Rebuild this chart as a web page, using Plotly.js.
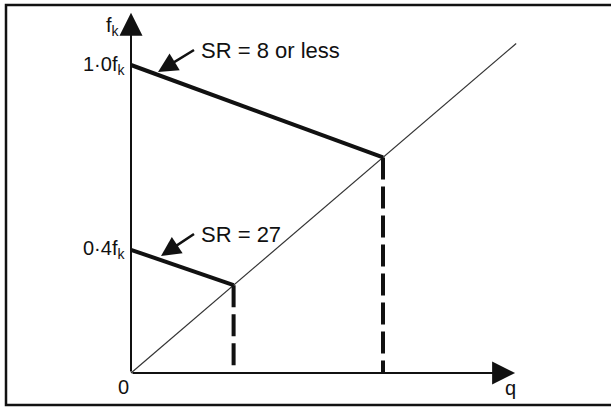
<!DOCTYPE html>
<html>
<head>
<meta charset="utf-8">
<script src="https://cdn.plot.ly/plotly-3.0.1.min.js"></script>
<style>html,body{margin:0;padding:0;background:#fff;}#chart{width:611px;height:408px;}</style>
</head>
<body>
<div id="chart"></div>
<script>
// ---- data (q and f expressed so that the diagonal is f = q; f in units of fk) ----
const srLabels = ['SR = 8 or less', 'SR = 27'];
const startF = [1.0, 0.4];          // f at q = 0
const cornerQ = [0.70, 0.285];      // where each line meets the diagonal
const tickLabels = ['1·0f<sub>k</sub>', '0·4f<sub>k</sub>'];
const diagonalQ = [0, 1.07];
const diagonalF = [0, 1.07];
const axisEndQ = 1.067;
const axisEndF = 1.17;

const W = 611, H = 408;
const FONT = 'Liberation Sans, Arial, Helvetica, sans-serif';
const px = x => x / W;
const py = y => 1 - y / H;

const traces = [];
// diagonal
traces.push({x: diagonalQ, y: diagonalF, mode: 'lines', line: {color: '#333', width: 1.2}, hoverinfo: 'skip'});
for (let i = 0; i < srLabels.length; i++) {
  // solid capacity line
  traces.push({x: [0, cornerQ[i]], y: [startF[i], cornerQ[i]], mode: 'lines',
    line: {color: '#111', width: 4}, hoverinfo: 'skip'});
  // dashed drop line
  traces.push({x: [cornerQ[i], cornerQ[i]], y: [cornerQ[i], 0], mode: 'lines',
    line: {color: '#111', width: 4, dash: '22px,7px'}, hoverinfo: 'skip'});
}

const annotations = [];
// axes with arrows
annotations.push({x: axisEndQ, y: 0, xref: 'x', yref: 'y', ax: 0, ay: 0, axref: 'x', ayref: 'y',
  text: '', showarrow: true, arrowhead: 2, arrowsize: 2.3, arrowwidth: 2, arrowcolor: '#111'});
annotations.push({x: 0, y: axisEndF, xref: 'x', yref: 'y', ax: 0, ay: 0, axref: 'x', ayref: 'y',
  text: '', showarrow: true, arrowhead: 2, arrowsize: 2.3, arrowwidth: 2, arrowcolor: '#111'});

// axis labels
annotations.push({x: px(113), y: py(26), xref: 'paper', yref: 'paper', text: 'f<sub>k</sub>',
  showarrow: false, font: {family: FONT, size: 20, color: '#111'}, xanchor: 'center', yanchor: 'middle'});
annotations.push({x: px(123), y: py(387), xref: 'paper', yref: 'paper', text: '0',
  showarrow: false, font: {family: FONT, size: 20, color: '#111'}, xanchor: 'center', yanchor: 'middle'});
annotations.push({x: px(510), y: py(388), xref: 'paper', yref: 'paper', text: 'q',
  showarrow: false, font: {family: FONT, size: 20, color: '#111'}, xanchor: 'center', yanchor: 'middle'});

// tick labels at line starts
for (let i = 0; i < tickLabels.length; i++) {
  annotations.push({x: -0.01, y: startF[i], xref: 'x', yref: 'y', text: tickLabels[i],
    showarrow: false, font: {family: FONT, size: 20, color: '#111'}, xanchor: 'right', yanchor: 'middle'});
}

// SR labels with pointer arrows (arrow runs from label to the line)
const labelPos = [[194, 50], [194, 234]];
const tipPos = [[158, 72], [161, 256]];
for (let i = 0; i < srLabels.length; i++) {
  annotations.push({x: px(tipPos[i][0]), y: py(tipPos[i][1]), xref: 'paper', yref: 'paper',
    text: srLabels[i], font: {family: FONT, size: 22, color: '#111'},
    xanchor: 'left', yanchor: 'middle', borderpad: 6, standoff: 0,
    showarrow: true, arrowhead: 2, arrowsize: 1.5, arrowwidth: 2.6, arrowcolor: '#111',
    ax: labelPos[i][0] - tipPos[i][0], ay: labelPos[i][1] - tipPos[i][1]});
}

const layout = {
  width: W, height: H,
  margin: {l: 0, r: 0, t: 0, b: 0},
  paper_bgcolor: '#fff', plot_bgcolor: '#fff',
  showlegend: false,
  xaxis: {visible: false, range: [-131 / 360, 480 / 360], fixedrange: true},
  yaxis: {visible: false, range: [-35 / 308, 373 / 308], fixedrange: true},
  shapes: [{type: 'rect', xref: 'paper', yref: 'paper', x0: px(6), x1: 1.05, y0: py(405), y1: py(5),
    line: {color: '#111', width: 2.5}, fillcolor: 'rgba(0,0,0,0)'}],
  annotations: annotations
};

Plotly.newPlot('chart', traces, layout, {staticPlot: true, displayModeBar: false});
</script>
</body>
</html>
